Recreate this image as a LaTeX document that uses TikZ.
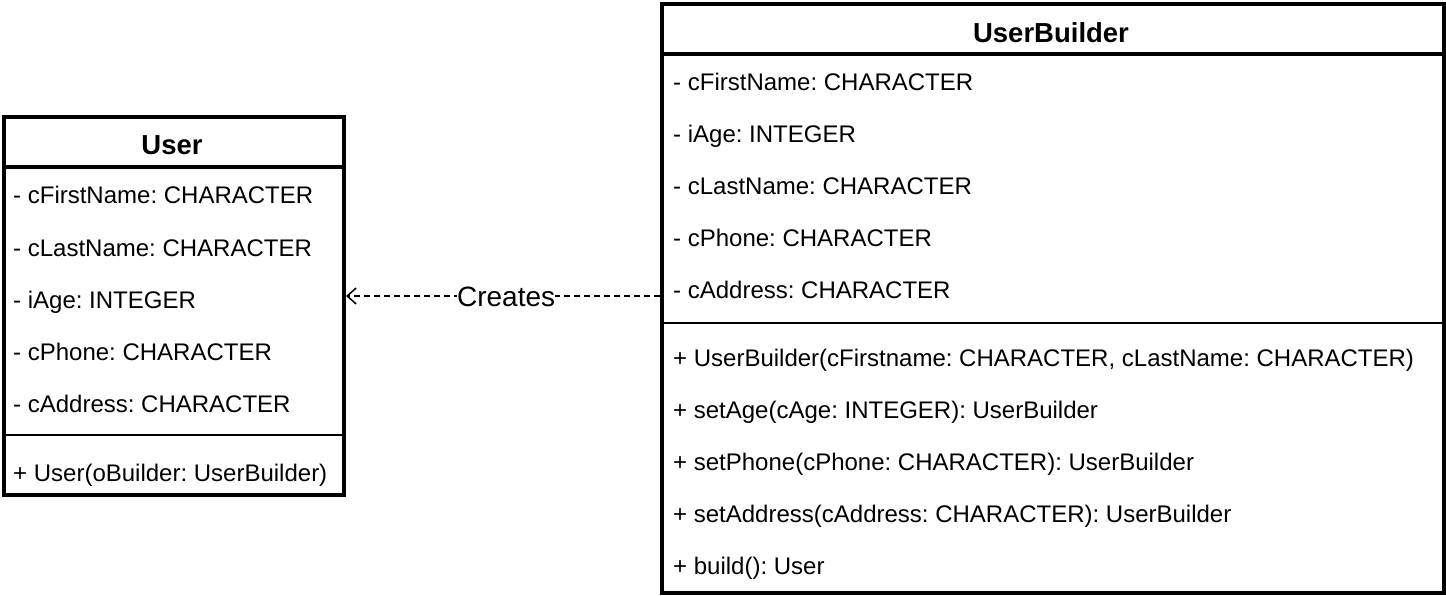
\documentclass[tikz,border=0pt]{standalone}
\usepackage{fontspec}
\setmainfont{Liberation Sans}
\frenchspacing
\usetikzlibrary{arrows.meta}
\begin{document}
\begin{tikzpicture}[x=1pt,y=-1pt,
  classbox/.style={draw=black, line width=4pt, fill=white, inner sep=0pt, anchor=north west},
  headsep/.style={draw=black, line width=3.5pt},
  thinsep/.style={draw=black, line width=2pt},
  attr/.style={font=\fontsize{24pt}{28pt}\selectfont, inner sep=0pt, anchor=base west},
  title/.style={font=\fontsize{27.5pt}{30pt}\selectfont\bfseries, inner sep=0pt, anchor=base},
  conn/.style={draw=black, line width=1.5pt, dash pattern=on 6pt off 4pt, -{Straight Barb[length=9pt,width=16pt,line width=1.5pt]}},
  lbl/.style={font=\fontsize{28pt}{32pt}\selectfont, fill=white, inner sep=0pt}
]
\useasboundingbox (0,0) rectangle (1446,596);
\fill[white] (0,0) rectangle (1446,596);

% User class
\node[classbox, minimum width=340pt, minimum height=378pt] (user) at (2,115) {};
\draw[headsep] (2,167) -- (342,167);
\draw[thinsep] (2,435) -- (342,435);
\node[title] (userT) at (172,155) {User};
\node[attr] (u1) at (13,204) {- cFirstName: CHARACTER};
\node[attr] (u2) at (13,256) {- cLastName: CHARACTER};
\node[attr] (u3) at (13,308) {- iAge: INTEGER};
\node[attr] (u4) at (13,360) {- cPhone: CHARACTER};
\node[attr] (u5) at (13,412) {- cAddress: CHARACTER};
\node[attr] (u6) at (13,481) {+ User(oBuilder: UserBuilder)};

% UserBuilder class
\node[classbox, minimum width=782pt, minimum height=588pt] (ub) at (660,2.5) {};
\draw[headsep] (660,54) -- (1442,54);
\draw[thinsep] (660,323) -- (1442,323);
\node[title] (ubT) at (1051,43) {UserBuilder};
\node[attr] (b1) at (673,90.5) {- cFirstName: CHARACTER};
\node[attr] (b2) at (673,142.5) {- iAge: INTEGER};
\node[attr] (b3) at (673,194.5) {- cLastName: CHARACTER};
\node[attr] (b4) at (673,246.5) {- cPhone: CHARACTER};
\node[attr] (b5) at (673,298.5) {- cAddress: CHARACTER};
\node[attr] (m1) at (673,366.5) {+ UserBuilder(cFirstname: CHARACTER, cLastName: CHARACTER)};
\node[attr] (m2) at (673,418.5) {+ setAge(cAge: INTEGER): UserBuilder};
\node[attr] (m3) at (673,470.5) {+ setPhone(cPhone: CHARACTER): UserBuilder};
\node[attr] (m4) at (673,522.5) {+ setAddress(cAddress: CHARACTER): UserBuilder};
\node[attr] (m5) at (673,574.5) {+ build(): User};

% connector
\coordinate (cs) at (ub.west |- 0,296);
\coordinate (ce) at (user.east |- 0,296);
\draw[conn] (cs) -- node[lbl, pos=0.49, yshift=-1pt] (cl) {Creates} (ce);
\end{tikzpicture}
\end{document}
